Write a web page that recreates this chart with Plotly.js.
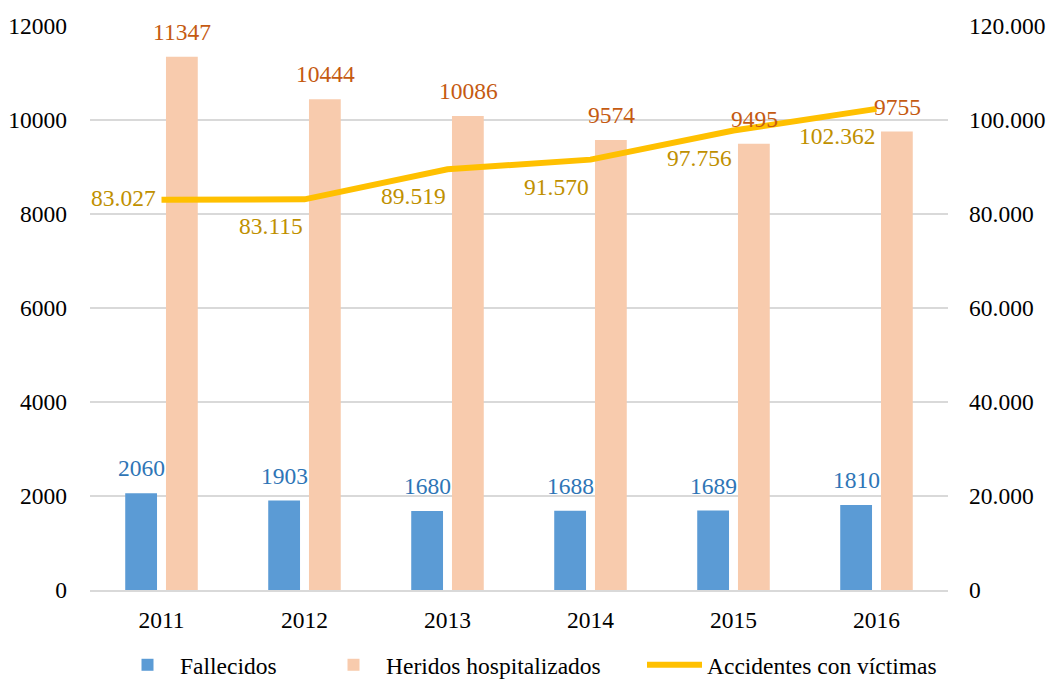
<!DOCTYPE html>
<html>
<head>
<meta charset="utf-8">
<script src="https://cdn.plot.ly/plotly-3.0.1.min.js"></script>
<style>html,body{margin:0;padding:0;background:#fff;}#chart{width:1049px;height:679px;}</style>
</head>
<body>
<div id="chart"></div>
<script>
const years = ['2011', '2012', '2013', '2014', '2015', '2016'];
const fallecidos = [2060, 1903, 1680, 1688, 1689, 1810];
const heridos = [11347, 10444, 10086, 9574, 9495, 9755];
const accidentes = [83027, 83115, 89519, 91570, 97756, 102362];
const leftTicks = [0, 2000, 4000, 6000, 8000, 10000, 12000];
const rightTicks = [0, 20000, 40000, 60000, 80000, 100000, 120000];

const FONT = 'Liberation Serif';
const FS = 23.5;

const fmtES = v => String(v).replace(/\B(?=(\d{3})+(?!\d))/g, '.');

const traces = [
  {
    type: 'bar', name: 'Fallecidos', x: years, y: fallecidos,
    marker: {color: '#5B9BD5'}, legend: 'legend', hoverinfo: 'x+y'
  },
  {
    type: 'bar', name: 'Heridos hospitalizados', x: years, y: heridos,
    marker: {color: '#F8CBAD'}, legend: 'legend2', hoverinfo: 'x+y'
  },
  {
    type: 'scatter', mode: 'lines', name: 'Accidentes con víctimas',
    x: years, y: accidentes, yaxis: 'y2', legend: 'legend3',
    line: {color: '#FFC000', width: 6}
  }
];

// label annotations, placed through the axis scales (category index i)
const annotations = [];
years.forEach((yr, i) => {
  annotations.push({
    x: i, y: fallecidos[i], xref: 'x', yref: 'y', text: String(fallecidos[i]),
    showarrow: false, xshift: -20.5, yshift: 25, xanchor: 'center', yanchor: 'middle',
    font: {family: FONT, size: FS, color: '#2E75B6'}
  });
  annotations.push({
    x: i, y: heridos[i], xref: 'x', yref: 'y', text: String(heridos[i]),
    showarrow: false, xshift: 20.5, yshift: 25, xanchor: 'center', yanchor: 'middle',
    font: {family: FONT, size: FS, color: '#C55A11'}
  });
  const first = i === 0;
  annotations.push({
    x: i, y: accidentes[i], xref: 'x', yref: 'y2', text: fmtES(accidentes[i]),
    showarrow: false, xanchor: 'right', yanchor: 'middle',
    xshift: first ? -4 : 0, yshift: first ? 2 : -27,
    font: {family: FONT, size: FS, color: '#BF9000'}
  });
});

const legendBase = {
  orientation: 'h', xref: 'container', yref: 'container',
  xanchor: 'left', yanchor: 'middle', y: 1 - 665 / 679,
  font: {family: FONT, size: FS, color: '#000'}, itemwidth: 55,
  bgcolor: 'rgba(0,0,0,0)'
};

const layout = {
  width: 1049, height: 679,
  margin: {l: 90, r: 101, t: 26, b: 89},
  separators: ',.',
  paper_bgcolor: '#fff', plot_bgcolor: '#fff',
  font: {family: FONT, size: FS, color: '#000'},
  showlegend: true,
  legend: Object.assign({}, legendBase, {x: 115 / 1049}),
  legend2: Object.assign({}, legendBase, {x: 321 / 1049}),
  legend3: Object.assign({}, legendBase, {x: 642 / 1049}),
  annotations: annotations,
  barmode: 'group', bargap: 0.43, bargroupgap: 0.22,
  xaxis: {
    type: 'category', range: [-0.5, years.length - 0.5],
    showgrid: false, zeroline: false,
    showline: true, linecolor: '#D9D9D9', linewidth: 1.5,
    ticks: '', ticklabelstandoff: 8,
    tickfont: {family: FONT, size: FS, color: '#000'}
  },
  yaxis: {
    range: [0, 12000], tickvals: leftTicks, tickformat: 'd',
    showgrid: true, gridcolor: '#D9D9D9', gridwidth: 1.5,
    zeroline: false, showline: false, ticks: '', ticklabelstandoff: 22,
    tickfont: {family: FONT, size: FS, color: '#000'}
  },
  yaxis2: {
    overlaying: 'y', side: 'right', range: [0, 120000], tickvals: rightTicks,
    tickformat: ',d', showgrid: false, zeroline: false, showline: false,
    ticks: '', ticklabelstandoff: 20,
    tickfont: {family: FONT, size: FS, color: '#000'}
  }
};

Plotly.newPlot('chart', traces, layout, {displayModeBar: false, responsive: false});
</script>
</body>
</html>
